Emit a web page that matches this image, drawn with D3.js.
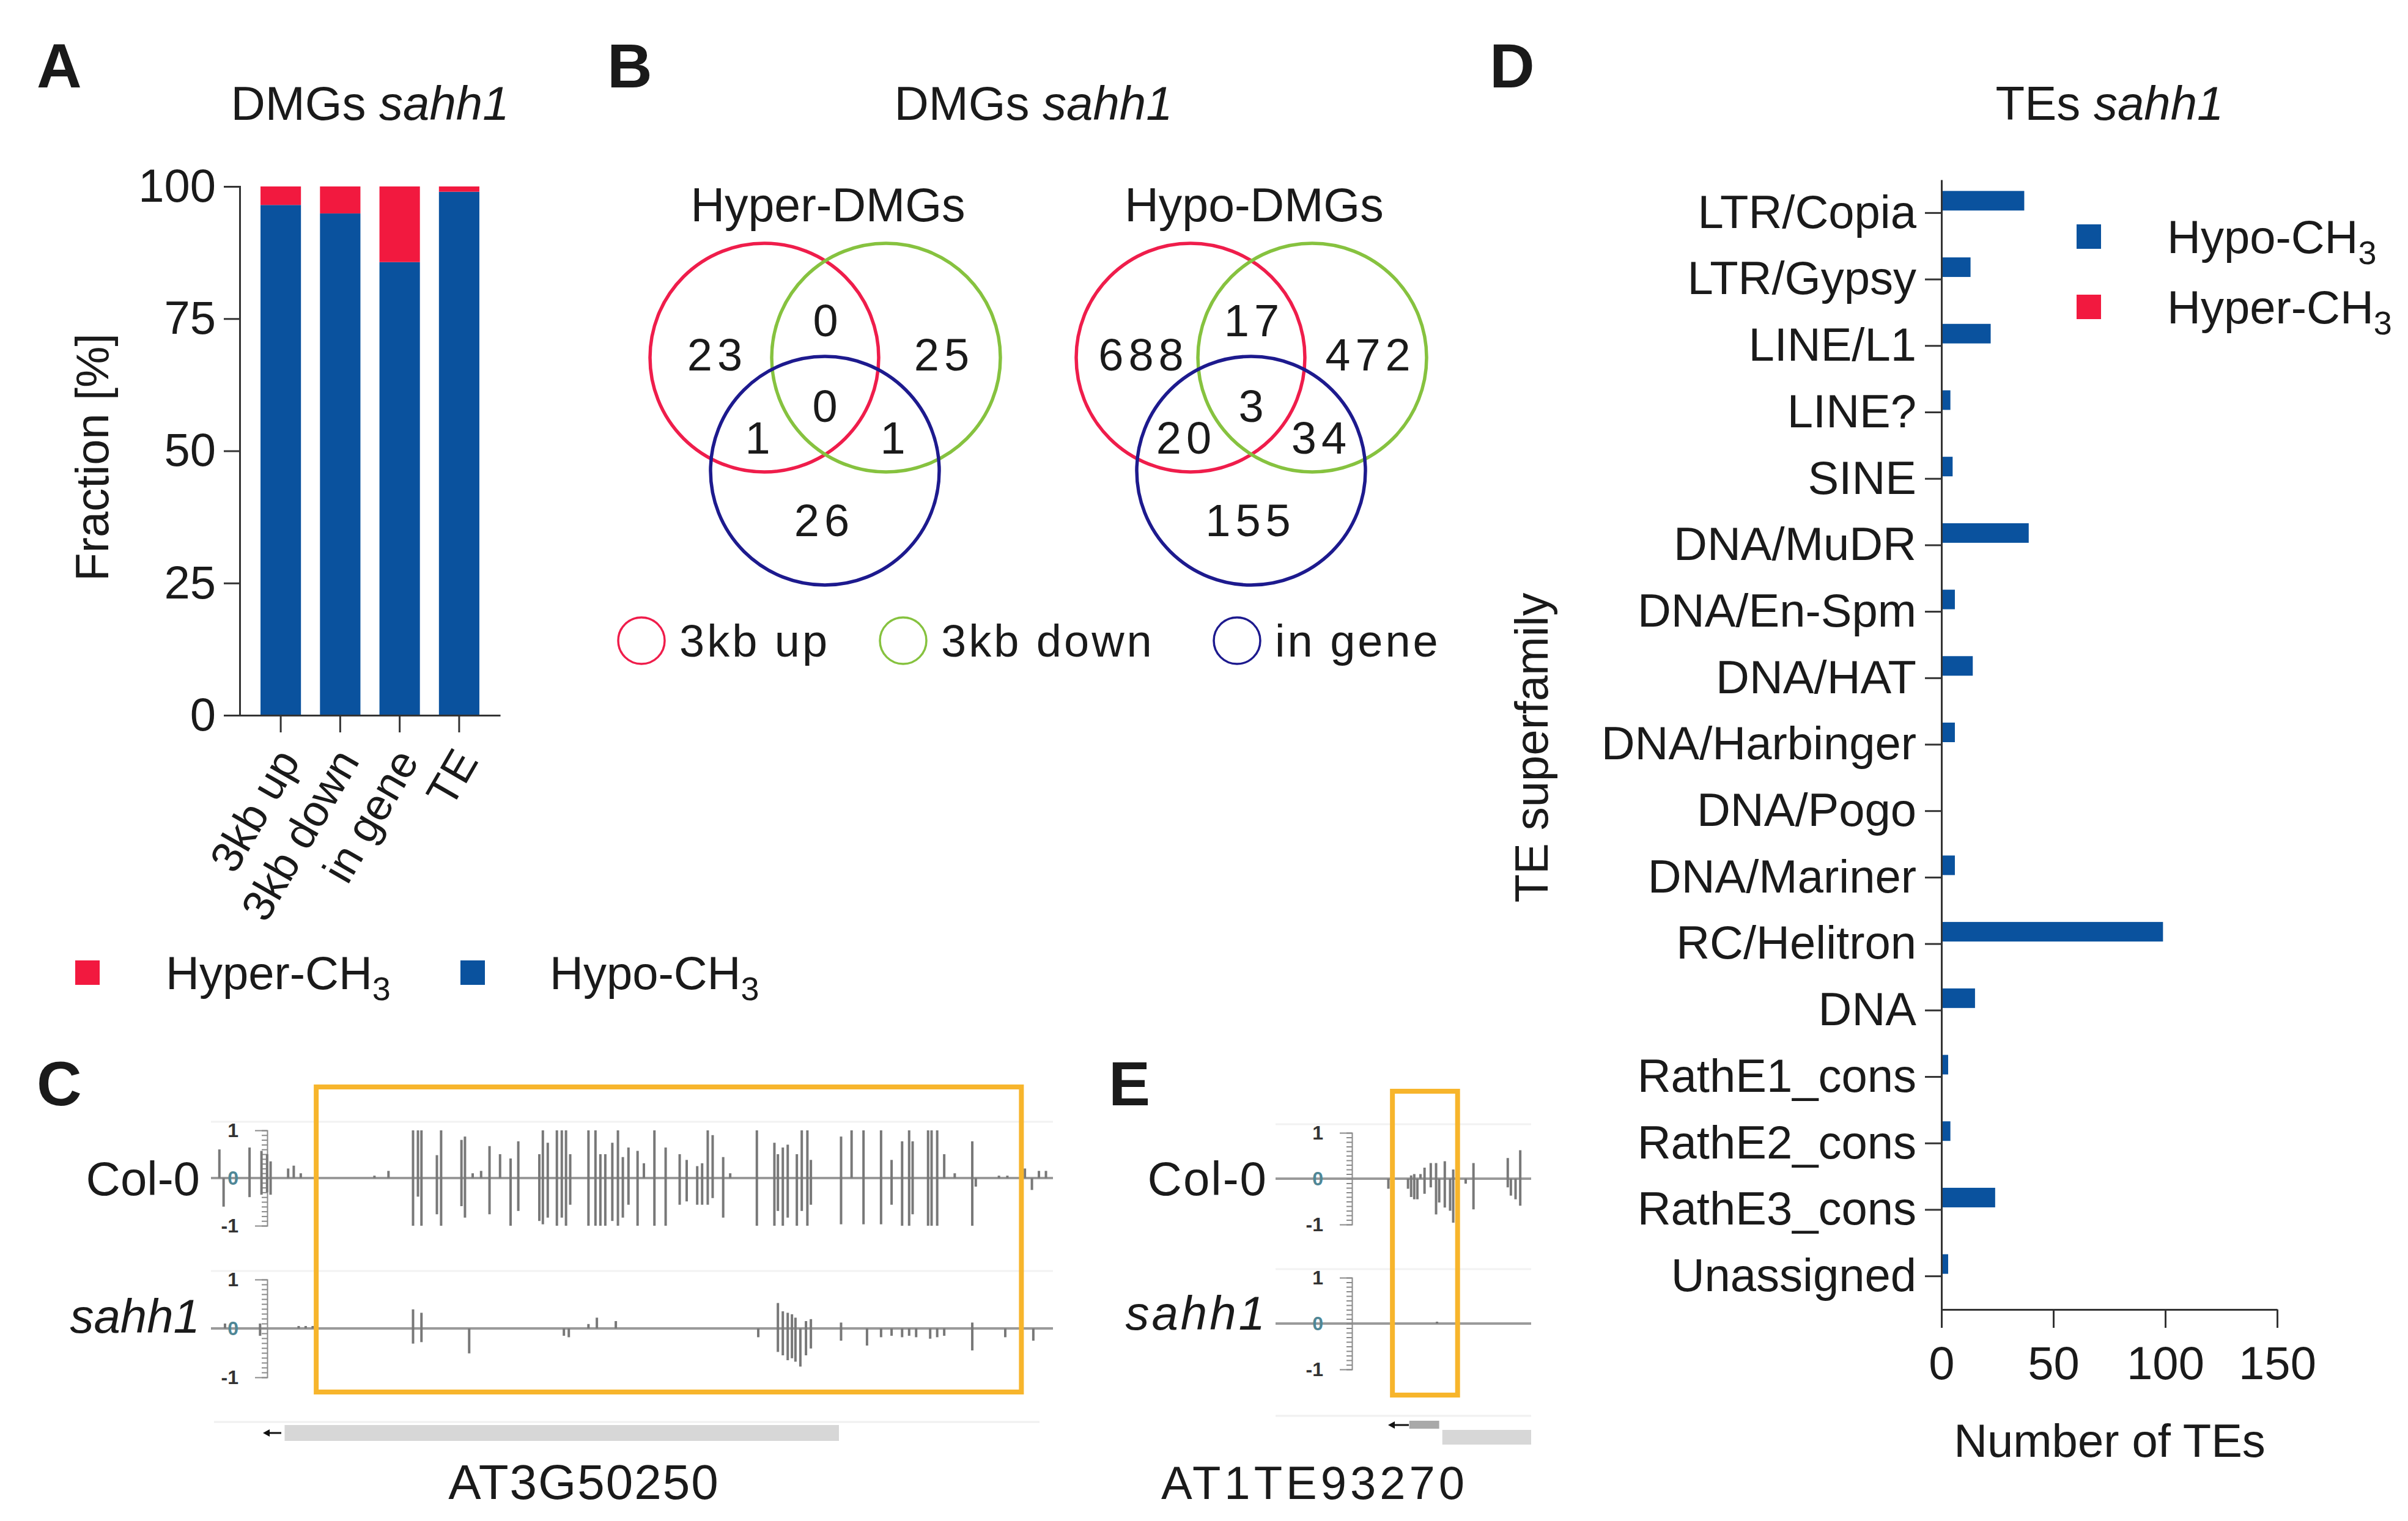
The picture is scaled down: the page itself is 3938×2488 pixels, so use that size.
<!DOCTYPE html>
<html><head><meta charset="utf-8">
<script src="https://cdn.jsdelivr.net/npm/d3@7"></script>
<style>
body{margin:0;background:#fff}
svg{display:block}
text{font-family:"Liberation Sans",Arial,sans-serif;fill:#1a1a1a}
</style>
</head><body>
<svg id="c" width="3938" height="2488"></svg>
<script>
// ---------------- DATA ----------------
// Panel A
const aCategories = ["3kb up", "3kb down", "in gene", "TE"];
const aHypo  = [96.5, 94.9, 85.7, 99.0];
const aHyper = [3.5, 5.1, 14.3, 1.0];
const aTicks = [0, 25, 50, 75, 100];
// Panel B (regions: up only, up&down, down only, all three, up&gene, down&gene, gene only)
const vennSets = ["3kb up", "3kb down", "in gene"];
const vennRegions = ["up", "up&down", "down", "all", "up&gene", "down&gene", "gene"];
const hyperDMGs = [23, 0, 25, 0, 1, 1, 26];
const hypoDMGs  = [688, 17, 472, 3, 20, 34, 155];
// Panel D
const teCategories = ["LTR/Copia","LTR/Gypsy","LINE/L1","LINE?","SINE","DNA/MuDR","DNA/En-Spm","DNA/HAT",
  "DNA/Harbinger","DNA/Pogo","DNA/Mariner","RC/Helitron","DNA","RathE1_cons","RathE2_cons","RathE3_cons","Unassigned"];
const teHypo  = [37, 13, 22, 4, 5, 39, 6, 14, 6, 0, 6, 99, 15, 3, 4, 24, 3];
const teHyper = [0, 0, 0, 0, 0, 0, 0, 0, 0, 0, 0, 0, 0, 0, 0, 0, 0];
const teTicks = [0, 50, 100, 150];
// Panel C tracks: [relative position, + strand methylation, - strand methylation]
const cCol0 = [[12,0.6,0],[18,0,-0.6],[55,0.64,-0.4],[72,0.57,-0.35],[80,0.5,-0.3],[85,0.35,-0.35],[110,0.2,0],[118,0.26,0],[128,0.1,0],
  [233,0.05,0],[253,0.15,0],[288,1,-1],[295,1,-0.39],[300,1,-1],[322,0.48,-0.76],[328,1,-1],[357,0.8,-0.59],[362,0.87,-0.83],
  [373,0.1,0],[385,0.15,0],[397,0.67,-0.76],[412,0.5,0],[427,0.41,-1],[438,0.77,-0.69],[468,0.5,-0.9],[473,1,-0.97],[480,0.74,-0.83],
  [493,1,-1],[500,1,-0.83],[506,1,-1],[512,0.5,-0.56],[538,1,-1],[548,1,-1],[555,0.5,-1],[562,0.5,-1],[572,0.74,-0.9],[580,1,-1],
  [587,0.44,-0.83],[595,0.64,-0.56],[608,0.57,-1],[617,0.31,0],[632,1,-1],[648,0.64,-1],[668,0.5,-0.56],[678,0.38,-0.49],[693,0.25,-0.56],
  [700,0.31,-0.56],[708,1,-0.56],[715,0.9,-0.42],[730,0.44,-0.83],[740,0.1,0],[778,1,-1],[803,0.74,-1],[808,0.5,-0.69],[815,0.64,-1],
  [822,0.7,-0.83],[835,0.5,-1],[842,1,-0.69],[850,1,-1],[855,0.38,-0.56],[898,0.87,-0.97],[913,1,0],[930,1,-0.97],[955,1,-0.97],
  [970,0.38,-0.56],[985,0.77,-1],[995,1,-1],[1000,0.77,-0.76],[1022,1,-1],[1027,1,-1],[1035,1,-1],[1045,0.5,0],[1060,0.1,0],
  [1085,0.77,-1],[1090,0,-0.18],[1123,0.05,0],[1135,0.05,0],[1160,0.2,0],[1170,0,-0.25],[1180,0.15,0],[1190,0.15,0]];
const cSahh1 = [[20,0.1,0],[70,0.1,-0.15],[125,0.05,0],[135,0.05,0],[145,0.05,0],[288,0.39,-0.31],[300,0.32,-0.28],[368,0,-0.51],
  [503,0,-0.15],[510,0,-0.18],[538,0.09,0],[550,0.22,0],[577,0.15,0],[780,0,-0.18],[808,0.52,-0.48],[815,0.35,-0.55],[822,0.32,-0.65],
  [828,0.29,-0.61],[833,0.22,-0.68],[840,0,-0.78],[848,0.15,-0.55],[855,0.19,-0.41],[898,0.12,-0.25],[935,0,-0.35],[955,0,-0.18],
  [970,0,-0.15],[985,0,-0.18],[995,0,-0.15],[1005,0,-0.18],[1025,0,-0.21],[1035,0,-0.18],[1045,0,-0.15],[1085,0.12,-0.45],
  [1132,0,-0.18],[1172,0,-0.25]];
const cDomain = [0, 1200];
const cHighlight = [150, 1155];
const cGene = [105, 895];
// Panel E tracks
const eCol0 = [[362,0,-0.22],[425,0,-0.22],[435,0.07,-0.4],[445,0.1,-0.45],[455,0,-0.45],[465,0.1,0],[478,0.24,-0.33],[498,0.34,-0.19],
  [515,0.34,-0.78],[525,0,-0.52],[543,0.38,-0.63],[560,0,-0.7],[570,0.2,-0.96],[610,0,-0.11],[635,0.34,-0.67],[745,0.45,-0.19],
  [755,0,-0.37],[770,0,-0.45],[785,0.62,-0.59]];
const eSahh1 = [[518,0.04,0]];
const eDomain = [0, 820];
const eHighlight = [375, 584];
const eGeneSmall = [429, 525];
const eGeneBig = [535, 820];
const trackTicks = d3.range(-10, 11).map(d => d / 10);

// ---------------- STYLE ----------------
const BLUE = "#0a529e", RED = "#f2193f";
const VRED = "#ef1d4b", VGREEN = "#86c23f", VBLUE = "#1d1a8e";
const FONT = '"Liberation Sans",Arial,sans-serif';
const FS = 76;
const svg = d3.select("#c");

function panelLabel(t, x, y) {
  svg.append("text").attr("x", x).attr("y", y).attr("font-size", 102).attr("font-weight", "bold").text(t);
}
panelLabel("A", 60, 143); panelLabel("B", 993, 143); panelLabel("C", 60, 1808);
panelLabel("D", 2436, 143); panelLabel("E", 1813, 1808);

function title(x, y, pre, it) {
  const t = svg.append("text").attr("x", x).attr("y", y).attr("text-anchor", "middle").attr("font-size", 78);
  t.append("tspan").text(pre);
  t.append("tspan").attr("font-style", "italic").text(it);
}
function styleAxis(g, fs) {
  g.attr("font-family", FONT).attr("font-size", fs);
  g.selectAll("path,line").attr("stroke", "#333").attr("stroke-width", 3);
}
function chemLabel(x, y, base, anchor) {
  const t = svg.append("text").attr("x", x).attr("y", y).attr("font-size", FS).attr("text-anchor", anchor || "start");
  t.append("tspan").text(base);
  t.append("tspan").attr("font-size", 54).attr("dy", 18).text("3");
}

// ---------------- PANEL A ----------------
title(605, 196, "DMGs ", "sahh1");
const ay = d3.scaleLinear().domain([0, 100]).range([1170, 305]);
const ax = d3.scaleBand().domain(aCategories).range([392, 818]).paddingInner(0.32).paddingOuter(0.35);
const aRows = aCategories.map((c, i) => ({cat: c, hypo: aHypo[i], hyper: aHyper[i]}));
const aStack = d3.stack().keys(["hypo", "hyper"])(aRows);
const aColor = {hypo: BLUE, hyper: RED};
svg.append("g").selectAll("g").data(aStack).join("g").attr("fill", d => aColor[d.key])
  .selectAll("rect").data(d => d).join("rect")
  .attr("x", d => ax(d.data.cat)).attr("width", ax.bandwidth())
  .attr("y", d => ay(d[1])).attr("height", d => ay(d[0]) - ay(d[1]));
const aYAxis = svg.append("g").attr("transform", "translate(392,0)")
  .call(d3.axisLeft(ay).tickValues(aTicks).tickSize(26).tickPadding(13));
styleAxis(aYAxis, FS);
const aXAxis = svg.append("g").attr("transform", "translate(0,1170)")
  .call(d3.axisBottom(ax).tickSize(28).tickSizeOuter(0));
styleAxis(aXAxis, FS);
aXAxis.selectAll("text").attr("x", 0).attr("y", 0).attr("dy", "0.35em").attr("font-size", 72)
  .attr("transform", "translate(11,62) rotate(-60)").style("text-anchor", "end");
svg.append("text").attr("transform", "translate(150,748) rotate(-90)").attr("text-anchor", "middle")
  .attr("dy", "0.35em").attr("font-size", FS).text("Fraction [%]");
// legend A
svg.append("rect").attr("x", 123).attr("y", 1571).attr("width", 40).attr("height", 40).attr("fill", RED);
chemLabel(271, 1618, "Hyper-CH");
svg.append("rect").attr("x", 753).attr("y", 1571).attr("width", 40).attr("height", 40).attr("fill", BLUE);
chemLabel(899, 1618, "Hypo-CH");

// ---------------- PANEL B ----------------
title(1690, 196, "DMGs ", "sahh1");
const vennColors = [VRED, VGREEN, VBLUE];
const circleOffsets = [[-99, 0], [100, 0], [0, 185]];
const regionOffsets = [[-180, -6], [1, -62], [191, -6], [0, 78], [-110, 130], [111, 130], [-5, 265]];
const venns = [{name: "Hyper-DMGs", cx: 1349, counts: hyperDMGs}, {name: "Hypo-DMGs", cx: 2046, counts: hypoDMGs}];
const vcy = 585, vr = 187;
venns.forEach(v => {
  svg.append("text").attr("x", v.cx + 5).attr("y", 362).attr("text-anchor", "middle").attr("font-size", 77).text(v.name);
  svg.append("g").selectAll("circle").data(vennSets).join("circle")
    .attr("cx", (d, i) => v.cx + circleOffsets[i][0]).attr("cy", (d, i) => vcy + circleOffsets[i][1])
    .attr("r", vr).attr("fill", "none").attr("stroke", (d, i) => vennColors[i]).attr("stroke-width", 5.5);
  svg.append("g").selectAll("text").data(vennRegions).join("text")
    .attr("x", (d, i) => v.cx + regionOffsets[i][0] + 4).attr("y", (d, i) => vcy + regionOffsets[i][1])
    .attr("text-anchor", "middle").attr("dy", "0.36em").attr("font-size", 74).attr("letter-spacing", 8)
    .text((d, i) => v.counts[i]);
});
// legend B
const bLegX = [1049, 1477, 2023];
vennSets.forEach((s, i) => {
  svg.append("ellipse").attr("cx", bLegX[i]).attr("cy", 1048).attr("rx", 38).attr("ry", 38)
    .attr("fill", "none").attr("stroke", vennColors[i]).attr("stroke-width", 3.5);
  svg.append("text").attr("x", bLegX[i] + 62).attr("y", 1074).attr("font-size", 74).attr("letter-spacing", 4).text(s);
});

// ---------------- PANEL D ----------------
title(3450, 196, "TEs ", "sahh1");
const dY = d3.scaleBand().domain(teCategories).range([294, 2142]);
const dX = d3.scaleLinear().domain([0, 150]).range([3175, 3724]);
const dInner = d3.scaleBand().domain(["Hypo", "Hyper"]).range([-36, 36]).paddingInner(0.2);
const teRows = teCategories.map((c, i) => ({cat: c, Hypo: teHypo[i], Hyper: teHyper[i]}));
const dColor = {Hypo: BLUE, Hyper: RED};
svg.append("g").selectAll("g").data(teRows).join("g")
  .attr("transform", d => `translate(0,${dY(d.cat) + dY.bandwidth() / 2})`)
  .selectAll("rect").data(d => ["Hypo", "Hyper"].map(k => ({k, v: d[k]}))).join("rect")
  .attr("x", dX(0)).attr("y", d => dInner(d.k)).attr("height", dInner.bandwidth())
  .attr("width", d => dX(d.v) - dX(0)).attr("fill", d => dColor[d.k]);
const dYAxis = svg.append("g").attr("transform", `translate(${dX(0)},0)`)
  .call(d3.axisLeft(dY).tickSize(27).tickPadding(14).tickSizeOuter(0));
styleAxis(dYAxis, FS);
const dXAxis = svg.append("g").attr("transform", "translate(0,2142)")
  .call(d3.axisBottom(dX).tickValues(teTicks).tickSize(30).tickPadding(30).tickSizeOuter(0));
styleAxis(dXAxis, FS);
svg.append("text").attr("x", 3450).attr("y", 2383).attr("text-anchor", "middle").attr("font-size", FS).text("Number of TEs");
svg.append("text").attr("transform", "translate(2504,1223) rotate(-90)").attr("text-anchor", "middle")
  .attr("dy", "0.35em").attr("font-size", FS).text("TE superfamily");
// legend D
svg.append("rect").attr("x", 3396).attr("y", 367).attr("width", 40).attr("height", 40).attr("fill", BLUE);
chemLabel(3544, 414, "Hypo-CH");
svg.append("rect").attr("x", 3396).attr("y", 482).attr("width", 40).attr("height", 40).attr("fill", RED);
chemLabel(3544, 529, "Hyper-CH");

// ---------------- TRACKS (C, E) ----------------
function track(data, xs, zeroY, half, axisX) {
  const [x0, x1] = xs.range();
  const ys = d3.scaleLinear().domain([-1, 1]).range([zeroY + half, zeroY - half]);
  svg.append("line").attr("x1", x0).attr("x2", x1).attr("y1", zeroY - half - 14).attr("y2", zeroY - half - 14)
    .attr("stroke", "#f2f2f2").attr("stroke-width", 3);
  svg.append("line").attr("x1", x0).attr("x2", x1).attr("y1", ys(0)).attr("y2", ys(0))
    .attr("stroke", "#9a9a9a").attr("stroke-width", 4);
  const g = svg.append("g").attr("transform", `translate(${axisX},0)`)
    .call(d3.axisLeft(ys).tickValues(trackTicks).tickSize(9).tickSizeOuter(20).tickPadding(38)
      .tickFormat(d => (d === 1 || d === 0 || d === -1) ? String(d) : ""));
  g.attr("font-family", FONT).attr("font-size", 32).attr("font-weight", "bold");
  g.selectAll("path,line").attr("stroke", "#8a8a8a").attr("stroke-width", 2);
  g.selectAll("text").style("fill", d => d === 0 ? "#4f8796" : "#333");
  const bars = svg.append("g").attr("stroke", "#787878").attr("stroke-width", 4);
  data.forEach(([p, up, dn]) => {
    if (up > 0) bars.append("line").attr("x1", xs(p)).attr("x2", xs(p)).attr("y1", ys(0)).attr("y2", ys(up));
    if (dn < 0) bars.append("line").attr("x1", xs(p)).attr("x2", xs(p)).attr("y1", ys(0)).attr("y2", ys(dn));
  });
}
function trackLabel(x, y, t, italic, ls) {
  svg.append("text").attr("x", x).attr("y", y).attr("text-anchor", "end").attr("font-size", 78)
    .attr("font-style", italic ? "italic" : "normal").attr("letter-spacing", ls || 0).text(t);
}
function arrow(xTip, xTail, y) {
  svg.append("line").attr("x1", xTail).attr("x2", xTip + 8).attr("y1", y).attr("y2", y).attr("stroke", "#111").attr("stroke-width", 3);
  svg.append("path").attr("d", `M${xTip},${y} L${xTip + 11},${y - 6} L${xTip + 11},${y + 6} Z`).attr("fill", "#111");
}

// Panel C
const cX = d3.scaleLinear().domain(cDomain).range([345, 1722]);
track(cCol0, cX, 1927, 78, 437);
track(cSahh1, cX, 2173, 80, 437);
trackLabel(327, 1955, "Col-0", false);
trackLabel(327, 2180, "sahh1", true);
svg.append("line").attr("x1", 350).attr("x2", 1700).attr("y1", 2326).attr("y2", 2326).attr("stroke", "#f0f0f0").attr("stroke-width", 3);
svg.append("rect").attr("x", cX(cGene[0])).attr("y", 2331).attr("width", cX(cGene[1]) - cX(cGene[0])).attr("height", 26).attr("fill", "#d7d7d7");
arrow(430, 460, 2344);
svg.append("rect").attr("x", cX(cHighlight[0])).attr("y", 1778).attr("width", cX(cHighlight[1]) - cX(cHighlight[0]))
  .attr("height", 499).attr("fill", "none").attr("stroke", "#f7b52c").attr("stroke-width", 8);
svg.append("text").attr("x", 955).attr("y", 2452).attr("text-anchor", "middle").attr("font-size", 80).attr("letter-spacing", 2).text("AT3G50250");

// Panel E
const eX = d3.scaleLinear().domain(eDomain).range([2086, 2504]);
track(eCol0, eX, 1928, 75, 2211);
track(eSahh1, eX, 2165, 75, 2211);
trackLabel(2073, 1955, "Col-0", false, 2);
trackLabel(2073, 2175, "sahh1", true, 4);
svg.append("line").attr("x1", 2086).attr("x2", 2504).attr("y1", 2316).attr("y2", 2316).attr("stroke", "#f0f0f0").attr("stroke-width", 3);
svg.append("rect").attr("x", eX(eGeneSmall[0])).attr("y", 2324).attr("width", eX(eGeneSmall[1]) - eX(eGeneSmall[0])).attr("height", 13).attr("fill", "#a9a9a9");
svg.append("rect").attr("x", eX(eGeneBig[0])).attr("y", 2339).attr("width", eX(eGeneBig[1]) - eX(eGeneBig[0])).attr("height", 24).attr("fill", "#d7d7d7");
arrow(2270, 2304, 2331);
svg.append("rect").attr("x", eX(eHighlight[0])).attr("y", 1785).attr("width", eX(eHighlight[1]) - eX(eHighlight[0]))
  .attr("height", 497).attr("fill", "none").attr("stroke", "#f7b52c").attr("stroke-width", 8);
svg.append("text").attr("x", 2150).attr("y", 2452).attr("text-anchor", "middle").attr("font-size", 76).attr("letter-spacing", 6).text("AT1TE93270");
</script>
</body></html>
